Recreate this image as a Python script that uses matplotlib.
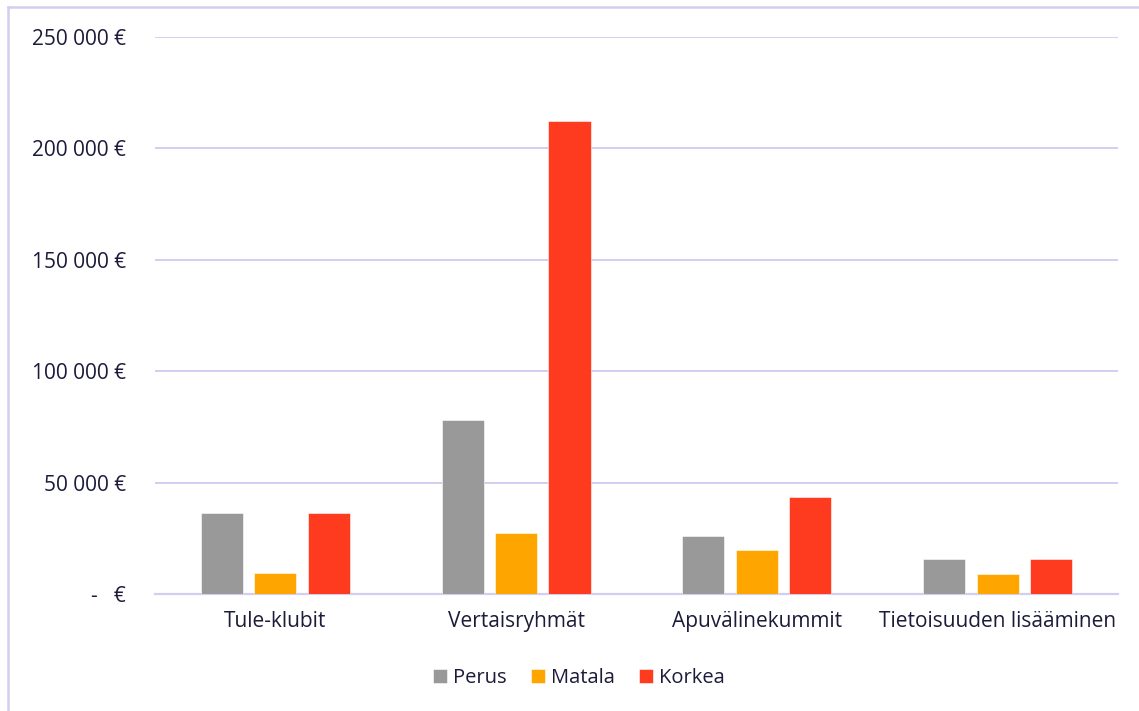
import numpy as np
import matplotlib.pyplot as plt
from matplotlib.lines import Line2D
from matplotlib.ticker import FuncFormatter

plt.rcParams['font.family'] = ['Open Sans', 'DejaVu Sans']

categories = ["Tule-klubit", "Vertaisryhmät", "Apuvälinekummit", "Tietoisuuden lisääminen"]
series_names = ["Perus", "Matala", "Korkea"]
perus = [36400, 78200, 26000, 15700]
matala = [9400, 27400, 19700, 9000]
korkea = [36400, 212300, 43600, 15700]
colors = ["#999999", "#FFA500", "#FF3B1F"]

TEXT = "#1c1b3a"
GRID = "#d2cef0"

fig = plt.figure(figsize=(11.39, 7.11), dpi=100, facecolor="white")
ax = fig.add_axes([0.136, 0.1646, 0.8456, 0.7834])

x = np.arange(len(categories))
width = 0.175
offsets = [-0.222, 0, 0.222]
for vals, off, col, name in zip([perus, matala, korkea], offsets, colors, series_names):
    ax.bar(x + off, vals, width, color=col, label=name, zorder=3,
           edgecolor="white", linewidth=0.4)

ax.set_xlim(-0.5, len(categories) - 0.5)
ax.set_ylim(0, 250000)
ax.set_yticks(np.arange(0, 250001, 50000))

def fmt(v, pos):
    if v == 0:
        return "-   €"
    return f"{int(v):,} €".replace(",", " ")

ax.yaxis.set_major_formatter(FuncFormatter(fmt))
ax.set_xticks(x)
ax.set_xticklabels(categories)
ax.tick_params(axis="y", length=0, pad=21, labelsize=15, labelcolor=TEXT)
ax.tick_params(axis="x", length=0, pad=12, labelsize=15, labelcolor=TEXT)
ax.grid(axis="y", color=GRID, linewidth=1.4, zorder=0)
for s in ["top", "right", "left"]:
    ax.spines[s].set_visible(False)
ax.spines["bottom"].set_color(GRID)
ax.spines["bottom"].set_linewidth(1.6)

leg = fig.legend(loc="center", bbox_to_anchor=(0.508, 0.046), ncol=3, frameon=False,
                 fontsize=14.5, handlelength=0.7, handleheight=0.7,
                 handletextpad=0.3, columnspacing=1.2)
for t in leg.get_texts():
    t.set_color(TEXT)

# outer frame (left and top edges visible)
W, H = 1139, 711
fig.add_artist(Line2D([8 / W, 8 / W], [0, 1 - 7 / H], color=GRID, linewidth=1.8))
fig.add_artist(Line2D([8 / W, 1], [1 - 7 / H, 1 - 7 / H], color=GRID, linewidth=1.8))

fig.savefig("out.png", dpi=100, facecolor="white")
